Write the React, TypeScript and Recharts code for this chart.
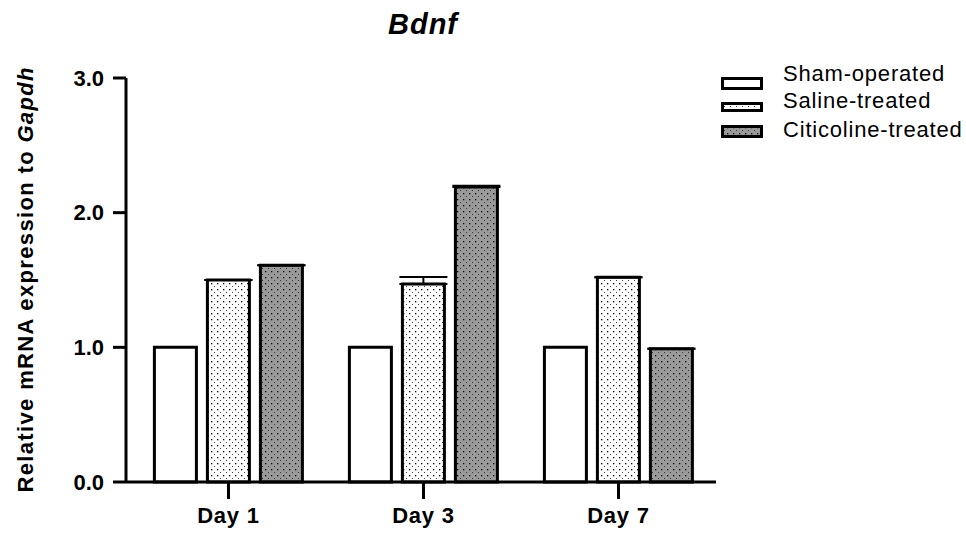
import React from "react";
import { BarChart, Bar, XAxis, YAxis, ErrorBar } from "recharts";

const days = ["Day 1", "Day 3", "Day 7"];
const sham = [1.0, 1.0, 1.0];
const saline = [1.5, 1.47, 1.52];
const citicoline = [1.61, 2.19, 0.99];
const salineErr = [0, 0.052, 0];
const citicolineErr = [0, 0.01, 0];
const yTicks = [0, 1, 2, 3];

const data = days.map((d, i) => ({
  name: d,
  sham: sham[i],
  saline: saline[i],
  citicoline: citicoline[i],
  // only the upper half of the error bar shows above the bar
  salineErr: [0, salineErr[i]],
  citicolineErr: [0, citicolineErr[i]],
}));

const font = "'Liberation Sans', Arial, sans-serif";

const legendItems = [
  { label: "Sham-operated", fill: "#ffffff", top: 77, h: 13, base: 81 },
  { label: "Saline-treated", fill: "url(#dotsLight)", top: 102, h: 10, base: 108 },
  { label: "Citicoline-treated", fill: "url(#dotsDark)", top: 125, h: 13, base: 137 },
];

function LegendBox() {
  return (
    <svg width={966} height={535} style={{ position: "absolute", left: 0, top: 0, pointerEvents: "none" }}>
      {legendItems.map((it) => (
        <g key={it.label}>
          <rect x={722.5} y={it.top + 1.5} width={39} height={it.h - 3} fill={it.fill} stroke="#000" strokeWidth={3} />
          <text x={783} y={it.base} fontFamily={font} fontSize={22} letterSpacing={0.8} fill="#000">
            {it.label}
          </text>
        </g>
      ))}
    </svg>
  );
}

const YLabel = () => (
  <text
    x={0}
    y={0}
    transform="translate(33, 280) rotate(-90)"
    textAnchor="middle"
    fontFamily={font}
    fontSize={22}
    fontWeight="bold"
    fill="#000"
    textLength={425}
    lengthAdjust="spacing"
  >
    Relative mRNA expression to <tspan fontStyle="italic">Gapdh</tspan>
  </text>
);

export default function App() {
  return (
    <div style={{ position: "absolute", left: 0, top: 0, width: 966, height: 535, background: "#fff" }}>
      <svg width={966} height={60} style={{ position: "absolute", left: 0, top: 0 }}>
        <text
          x={423}
          y={34}
          textAnchor="middle"
          fontFamily={font}
          fontSize={29}
          fontWeight="bold"
          fontStyle="italic"
          letterSpacing={1}
          fill="#000"
        >
          Bdnf
        </text>
        <defs>
          <pattern id="dotsLight" width="6" height="6" patternUnits="userSpaceOnUse">
            <rect width="6" height="6" fill="#ffffff" />
            <rect x="1" y="1" width="1.3" height="1.3" fill="#000" />
            <rect x="4" y="4" width="1" height="1" fill="#444" />
          </pattern>
          <pattern id="dotsDark" width="6" height="6" patternUnits="userSpaceOnUse">
            <rect width="6" height="6" fill="#9a9a9a" />
            <rect x="1" y="1" width="1.3" height="1.3" fill="#000" />
            <rect x="4" y="4" width="1" height="1" fill="#333" />
          </pattern>
        </defs>
      </svg>
      <BarChart
        width={966}
        height={535}
        data={data}
        margin={{ top: 78, right: 250, bottom: 13, left: 0 }}
        barCategoryGap="12%"
        barGap={11}
        style={{ position: "absolute", left: 0, top: 0 }}
      >
        <XAxis
          dataKey="name"
          height={40}
          padding={{ left: 5, right: 0 }}
          axisLine={{ stroke: "#000", strokeWidth: 3 }}
          tickLine={{ stroke: "#000", strokeWidth: 3 }}
          tickSize={17}
          tickMargin={8}
          tick={{ fill: "#000", fontFamily: font, fontSize: 22, fontWeight: "bold", letterSpacing: 0.8 }}
        />
        <YAxis
          width={126}
          domain={[0, 3]}
          ticks={yTicks}
          interval={0}
          tickFormatter={(v: number) => v.toFixed(1)}
          axisLine={{ stroke: "#000", strokeWidth: 3 }}
          tickLine={{ stroke: "#000", strokeWidth: 3 }}
          tickSize={13}
          tickMargin={9}
          tick={{ fill: "#000", fontFamily: font, fontSize: 22, fontWeight: "bold" }}
          label={<YLabel />}
        />
        <Bar dataKey="sham" name="Sham-operated" fill="#ffffff" stroke="#000" strokeWidth={3} isAnimationActive={false} />
        <Bar dataKey="saline" name="Saline-treated" fill="url(#dotsLight)" stroke="#000" strokeWidth={3} isAnimationActive={false}>
          <ErrorBar dataKey="salineErr" width={24} stroke="#000" strokeWidth={2} />
        </Bar>
        <Bar dataKey="citicoline" name="Citicoline-treated" fill="url(#dotsDark)" stroke="#000" strokeWidth={3} isAnimationActive={false}>
          <ErrorBar dataKey="citicolineErr" width={24} stroke="#000" strokeWidth={2} />
        </Bar>
      </BarChart>
      <LegendBox />
    </div>
  );
}
